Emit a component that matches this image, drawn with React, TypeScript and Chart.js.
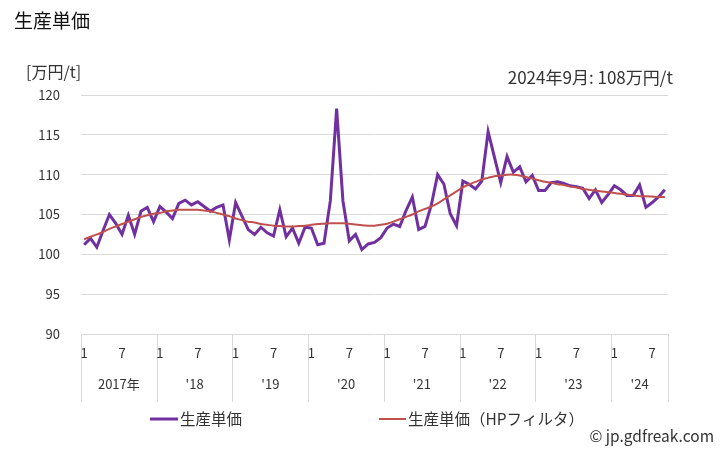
import React, { useEffect, useRef } from "react";
import { Chart, registerables } from "chart.js";

Chart.register(...registerables);

const years = ["2017年", "'18", "'19", "'20", "'21", "'22", "'23", "'24"];
const months = ["1", "2", "3", "4", "5", "6", "7", "8", "9", "10", "11", "12"];
const lastMonthCount = 9;

const unitPrice = [
  101.2, 102.0, 100.9, 103.0, 105.0, 103.9, 102.5, 104.9, 102.5, 105.4, 105.9, 104.1,
  106.0, 105.3, 104.5, 106.4, 106.8, 106.2, 106.6, 106.0, 105.4, 105.9, 106.2, 101.8,
  106.5, 104.8, 103.1, 102.5, 103.4, 102.7, 102.3, 105.6, 102.2, 103.3, 101.4, 103.4,
  103.3, 101.2, 101.4, 106.7, 118.3, 106.7, 101.7, 102.5, 100.6, 101.3, 101.5, 102.1,
  103.3, 103.8, 103.5, 105.5, 107.2, 103.1, 103.5, 106.2, 110.0, 108.8, 105.1, 103.6,
  109.2, 108.8, 108.2, 109.2, 115.4, 112.2, 109.0, 112.3, 110.3, 111.0, 109.1, 109.9,
  108.0, 108.0, 109.0, 109.1, 108.9, 108.6, 108.5, 108.3, 107.0, 108.1, 106.5, 107.5,
  108.6, 108.1, 107.4, 107.4, 108.7, 105.9, 106.5, 107.2, 108.1,
];

const hpTrend = [
  101.9, 102.2, 102.5, 102.8, 103.2, 103.5, 103.8, 104.1, 104.4, 104.7, 104.9, 105.1,
  105.2, 105.4, 105.5, 105.6, 105.6, 105.6, 105.6, 105.5, 105.4, 105.2, 105.0, 104.8,
  104.5, 104.3, 104.1, 104.0, 103.8, 103.7, 103.6, 103.55, 103.5, 103.5, 103.55, 103.6,
  103.7, 103.8, 103.85, 103.9, 103.9, 103.9, 103.85, 103.75, 103.65, 103.6, 103.6, 103.7,
  103.85, 104.1, 104.4, 104.7, 105.0, 105.4, 105.7, 106.0, 106.4, 106.9, 107.4, 107.9,
  108.4, 108.8, 109.1, 109.4, 109.6, 109.8, 109.9, 110.0, 110.0, 109.9, 109.7, 109.5,
  109.3, 109.1, 109.0, 108.8, 108.7, 108.5, 108.4, 108.2, 108.1, 108.0, 107.9, 107.8,
  107.7, 107.6, 107.5, 107.4, 107.3, 107.3, 107.25, 107.2, 107.2,
];

const yTicks = [90, 95, 100, 105, 110, 115, 120];
const monthTickLabels = ["1", "7"];

const titleText = "生産単価";
const unitText = "[万円/t]";
const latestText = "2024年9月: 108万円/t";
const seriesNames = ["生産単価", "生産単価（HPフィルタ）"];
const creditText = "© jp.gdfreak.com";

const FONT = '"Noto Sans CJK JP", "Noto Sans", sans-serif';
const PURPLE = "#7030A0";
const RED = "#C0504D";
const GRID = "#d9d9d9";
const TEXT = "#333333";

const labels: string[] = [];
years.forEach((y, yi) => {
  const n = yi === years.length - 1 ? lastMonthCount : 12;
  for (let m = 0; m < n; m++) labels.push(y + "-" + months[m]);
});

const decorPlugin = {
  id: "decor",
  afterDraw(chart: any) {
    const ctx = chart.ctx;
    const xs = chart.scales.x;
    const area = chart.chartArea;
    const step = xs.getPixelForValue(1) - xs.getPixelForValue(0);
    ctx.save();
    // title & texts
    ctx.fillStyle = "#111";
    ctx.textBaseline = "middle";
    ctx.textAlign = "left";
    ctx.font = "19px " + FONT;
    ctx.fillText(titleText, 14, 21);
    ctx.fillStyle = TEXT;
    ctx.font = "16px " + FONT;
    ctx.fillText(unitText, 26, 72);
    ctx.textAlign = "right";
    ctx.font = "17px " + FONT;
    ctx.fillText(latestText, 673, 78);

    // x axis category area
    const bottom = area.bottom;
    const axisEnd = 402;
    ctx.strokeStyle = GRID;
    ctx.lineWidth = 1;
    let idx = 0;
    const boundaries: number[] = [];
    years.forEach((y, yi) => {
      const n = yi === years.length - 1 ? lastMonthCount : 12;
      boundaries.push(xs.getPixelForValue(idx) - step / 2);
      idx += n;
    });
    boundaries.push(xs.getPixelForValue(idx - 1) + step / 2);
    boundaries.forEach((bx) => {
      const px = Math.round(bx) + 0.5;
      ctx.beginPath();
      ctx.moveTo(px, bottom);
      ctx.lineTo(px, axisEnd);
      ctx.stroke();
    });
    ctx.fillStyle = TEXT;
    ctx.font = "13px " + FONT;
    ctx.textAlign = "center";
    idx = 0;
    years.forEach((y, yi) => {
      const n = yi === years.length - 1 ? lastMonthCount : 12;
      for (let m = 0; m < n; m++) {
        const lab = months[m];
        if (monthTickLabels.includes(lab)) {
          ctx.fillText(lab, xs.getPixelForValue(idx + m), 353);
        }
      }
      const cx = (boundaries[yi] + boundaries[yi + 1]) / 2;
      ctx.fillText(y, cx, 384);
      idx += n;
    });

    // legend
    ctx.lineWidth = 3;
    ctx.strokeStyle = PURPLE;
    ctx.beginPath();
    ctx.moveTo(150, 419);
    ctx.lineTo(178, 419);
    ctx.stroke();
    ctx.lineWidth = 2;
    ctx.strokeStyle = RED;
    ctx.beginPath();
    ctx.moveTo(379, 419);
    ctx.lineTo(406, 419);
    ctx.stroke();
    ctx.fillStyle = TEXT;
    ctx.font = "15.5px " + FONT;
    ctx.textAlign = "left";
    ctx.fillText(seriesNames[0], 180, 419);
    ctx.fillText(seriesNames[1], 408, 419);

    ctx.font = "15.5px " + FONT;
    ctx.textAlign = "right";
    ctx.fillText(creditText, 714, 436);
    ctx.restore();
  },
};

export default function App() {
  const ref = useRef<HTMLCanvasElement | null>(null);
  useEffect(() => {
    if (!ref.current) return;
    const chart = new Chart(ref.current, {
      type: "line",
      data: {
        labels,
        datasets: [
          {
            label: seriesNames[0],
            data: unitPrice,
            borderColor: PURPLE,
            backgroundColor: PURPLE,
            borderWidth: 3,
            pointRadius: 0,
            tension: 0,
            order: 1,
          },
          {
            label: seriesNames[1],
            data: hpTrend,
            borderColor: RED,
            backgroundColor: RED,
            borderWidth: 2,
            pointRadius: 0,
            tension: 0.3,
            order: 0,
          },
        ],
      },
      options: {
        responsive: false,
        animation: false,
        layout: { padding: { left: 0, right: 60, top: 95, bottom: 48 } },
        plugins: { legend: { display: false }, tooltip: { enabled: false } },
        scales: {
          x: {
            type: "category",
            offset: true,
            grid: { display: false },
            border: { display: false },
            ticks: { display: false },
            afterFit: (s: any) => {
              s.height = 68;
            },
          },
          y: {
            min: 90,
            max: 120,
            afterBuildTicks: (s: any) => {
              s.ticks = yTicks.map((v) => ({ value: v }));
            },
            grid: { color: GRID, drawTicks: false, lineWidth: 1 },
            border: { display: false },
            ticks: {
              color: TEXT,
              padding: 21,
              font: { family: FONT, size: 13 },
            },
            afterFit: (s: any) => {
              s.width = 81;
            },
          },
        },
      },
      plugins: [decorPlugin],
    });
    return () => chart.destroy();
  }, []);
  return (
    <div style={{ position: "fixed", left: 0, top: 0, width: 728, height: 450, background: "#fff" }}>
      <canvas ref={ref} width={728} height={450} style={{ width: 728, height: 450 }} />
    </div>
  );
}
